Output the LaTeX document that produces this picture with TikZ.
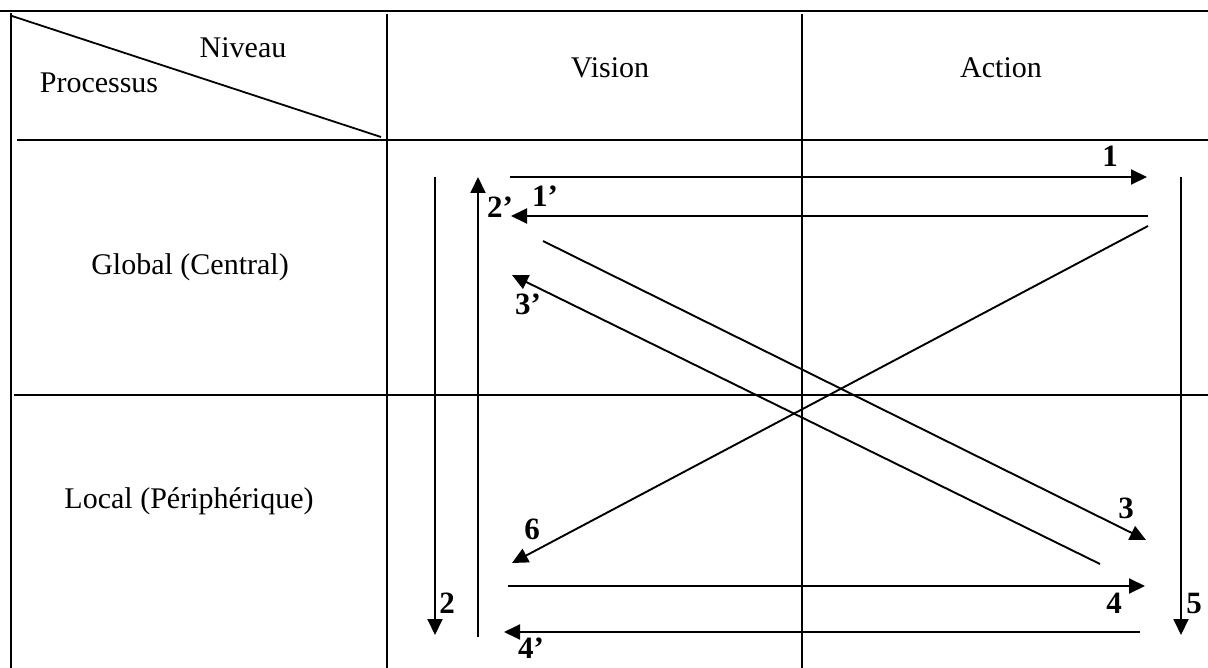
\documentclass[tikz,border=0pt]{standalone}
\usepackage{fontspec}
\setmainfont{Liberation Serif}
\usetikzlibrary{arrows.meta}
\begin{document}
\begin{tikzpicture}[x=1pt,y=-1pt,
  grid/.style={line width=2.2pt,line cap=rect},
  conn/.style={line width=1.9pt},
  arr/.style={conn,-{Triangle[length=16pt,width=15pt]}},
  head/.style={anchor=base,inner sep=0pt,font=\fontsize{30}{32}\selectfont},
  num/.style={anchor=base,inner sep=0pt,font=\fontsize{31}{34}\selectfont\bfseries}]
\useasboundingbox (0,0) rectangle (1208,668);
% table
\draw[grid] (0,11) -- (1208,11);
\draw[grid] (11,14) -- (11,668);
\draw[grid] (18,140) -- (1208,140);
\draw[grid] (15,395) -- (1208,395);
\draw[grid] (387,15) -- (387,668);
\draw[grid] (802,15) -- (802,668);
\draw[line width=1.8pt] (12,16) -- (381,137);
% headers
\node[head] (niv) at (243,58) {Niveau};
\node[head] (proc) at (99,93) {Processus};
\node[head] (vis) at (610,78) {Vision};
\node[head] (act) at (1001,78) {Action};
\node[head] (glob) at (190,275) {Global (Central)};
\node[head] (loc) at (189,508) {Local (Périphérique)};
% endpoints
\coordinate (a1s) at (510,177);  \coordinate (a1e) at (1147,177);
\coordinate (b1s) at (1148,216); \coordinate (b1e) at (511,216);
\coordinate (a2s) at (435,177);  \coordinate (a2e) at (435,635);
\coordinate (b2s) at (478,637);  \coordinate (b2e) at (478,177);
\coordinate (a3s) at (543,241);  \coordinate (a3e) at (1146,540);
\coordinate (b3s) at (1100,564); \coordinate (b3e) at (512,275);
\coordinate (a4s) at (508,586);  \coordinate (a4e) at (1145,586);
\coordinate (b4s) at (1140,632); \coordinate (b4e) at (504,632);
\coordinate (a5s) at (1181,177); \coordinate (a5e) at (1181,635);
\coordinate (a6s) at (1148,226); \coordinate (a6e) at (512,563);
% connectors
\draw[arr] (a1s) -- (a1e);
\draw[arr] (b1s) -- (b1e);
\draw[arr] (a2s) -- (a2e);
\draw[arr] (b2s) -- (b2e);
\draw[arr] (a3s) -- (a3e);
\draw[arr] (b3s) -- (b3e);
\draw[arr] (a4s) -- (a4e);
\draw[arr] (b4s) -- (b4e);
\draw[arr] (a5s) -- (a5e);
\draw[arr] (a6s) -- (a6e);
% labels
\node[num] (l1) at (1110,167) {1};
\node[num] (l1p) at (545,207) {1’};
\node[num] (l2p) at (500,218) {2’};
\node[num] (l3p) at (528,315) {3’};
\node[num] (l3) at (1126,518) {3};
\node[num] (l6) at (532,539) {6};
\node[num] (l2) at (447,613) {2};
\node[num] (l4) at (1114,613) {4};
\node[num] (l5) at (1194,613) {5};
\node[num] (l4p) at (531,658) {4’};
\end{tikzpicture}
\end{document}
